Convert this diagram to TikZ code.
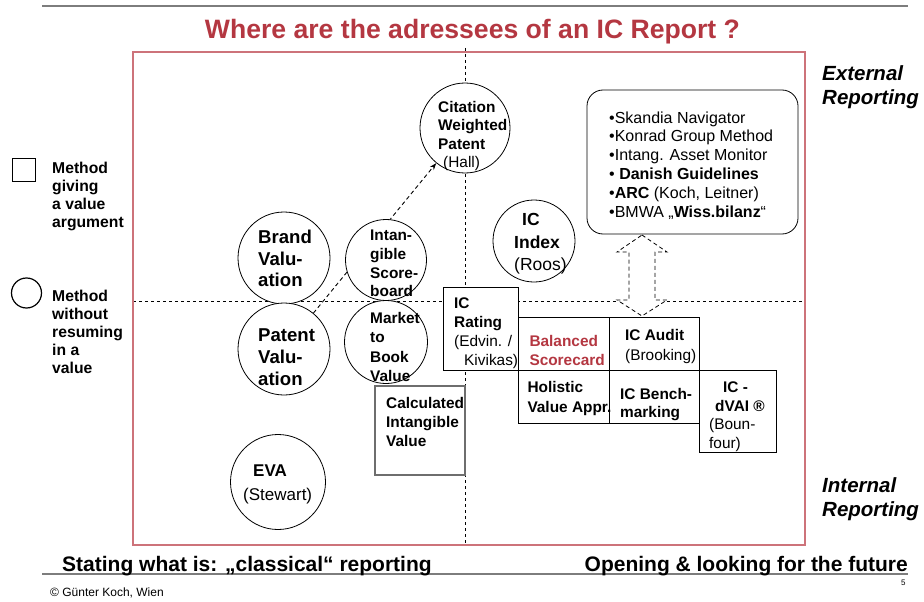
\documentclass[tikz,border=0pt]{standalone}
\usepackage{fontspec}
\setmainfont{Liberation Sans}
\usetikzlibrary{arrows.meta,backgrounds}

\definecolor{titlered}{RGB}{180,55,65}
\definecolor{framered}{RGB}{205,115,122}
\definecolor{rulegray}{RGB}{125,125,125}
\definecolor{boxgray}{RGB}{110,110,110}

\tikzset{
	circ/.style={circle, draw, fill=white, inner sep=0pt, line width=0.8pt},
	box/.style={rectangle, draw, fill=white, inner sep=0pt, line width=0.8pt},
	rbox/.style={rectangle, draw, fill=white, inner sep=0pt, line width=0.8pt, rounded corners=16pt},
	txt/.style 2 args={anchor=base west, inner sep=0pt, align=left, font=\fontsize{#1}{#2}\selectfont\bfseries},
	axis/.style={dash pattern=on 3pt off 3pt, line width=0.8pt},
}

\begin{document}
\begin{tikzpicture}[x=1pt,y=1pt,yscale=-1,xscale=1]
	\useasboundingbox (0,0) rectangle (924,602);
	
	%Straight Lines: rules
	\draw [rulegray, line width=2pt] (42,6) -- (908,6);
	\draw [rulegray, line width=1.5pt] (42,574) -- (908,574);
	
	% Text Node: title
	\node [anchor=base, inner sep=0pt, text=titlered, font=\fontsize{26.6}{30}\selectfont\bfseries] (title) at (472.5,39) {Where are the adressees of an IC Report ?};
	
	%Shape: Rectangle: frame
	\draw [framered, line width=1.3pt] (133,52) rectangle (805,545);
	
	%Shape: Circle
	\node [circ, minimum size=90] (cwp) at (465,128) {};
	\node [circ, minimum size=92] (brand) at (284,258) {};
	\node [circ, minimum size=81] (score) at (386,260) {};
	\node [circ, minimum size=92] (patval) at (284,349) {};
	\node [circ, minimum size=83] (mtb) at (386,342) {};
	\node [circ, minimum size=82] (icindex) at (534,241) {};
	\node [circ, minimum size=95] (eva) at (278,482) {};
	
	%Shape: Rectangle
	\node [box, minimum width=75, minimum height=83] (icrating) at (480.5,328.5) {};
	\node [box, minimum width=91, minimum height=53] (bsc) at (563.5,343.5) {};
	\node [box, minimum width=90, minimum height=53] (icaudit) at (654,343.5) {};
	\node [box, minimum width=91, minimum height=53] (holistic) at (563.5,396.5) {};
	\node [box, minimum width=90, minimum height=53] (bench) at (654,396.5) {};
	\node [box, minimum width=77, minimum height=82] (dvai) at (737.5,411) {};
	\node [box, draw=boxgray, line width=1.2pt, minimum width=90, minimum height=89] (calc) at (420,430.5) {};
	
	%Shape: Rounded Rect
	\node [rbox, minimum width=211, minimum height=144] (listbox) at (692.5,162) {};
	
	%Shape: Up Down Arrow
	\draw [dash pattern=on 4pt off 3pt, line width=0.8pt, fill=white] (642,235) -- (667,252) -- (655,252) -- (655,300) -- (667,300) -- (642,316) -- (617,300) -- (629,300) -- (629,252) -- (617,252) -- cycle;
	
	\begin{scope}[on background layer]
		%Straight Lines: axes
		\draw [axis] (465,48) -- (465,545);
		\draw [axis] (133,301) -- (805,301);
		%Straight Lines: arrow
		\draw [dash pattern=on 4pt off 3pt, line width=0.9pt, -{Stealth[length=7pt,width=5pt]}] (patval) -- (cwp);
	\end{scope}
	
	% Text Node
	\node [txt={15.4}{18.3}] (cwptext) at (438,167.5) {Citation\\Weighted\\Patent\\\hspace*{5pt}{\mdseries(Hall)}};
	% Text Node
	\node [txt={18.6}{21.7}] (brandtext) at (258,286.7) {Brand\\Valu-\\ation};
	% Text Node
	\node [txt={18.6}{21.7}] (patvaltext) at (258,385.1) {Patent\\Valu-\\ation};
	% Text Node
	\node [txt={15.4}{18.7}] (scoretext) at (370,296.8) {Intan-\\gible\\Score-\\board};
	% Text Node
	\node [txt={15.4}{19.4}] (mtbtext) at (370,381.5) {Market\\to\\Book\\Value};
	% Text Node
	\node [txt={17.5}{22.5}] (icindextext) at (514,270.7) {\hspace*{8pt}IC\\Index\\{\mdseries(Roos)}};
	% Text Node
	\node [txt={17}{23.3}] (evatext) at (243,500) {\hspace*{10pt}EVA\\{\mdseries(Stewart)}};
	% Text Node
	\node [txt={15.4}{18.9}] (icratingtext) at (454,365) {IC\\Rating\\{\mdseries(Edvin. /}\\\hspace*{10pt}{\mdseries Kivikas)}};
	% Text Node
	\node [txt={15.4}{18.3}, text=titlered] (bsctext) at (529.3,365) {Balanced\\Scorecard};
	% Text Node
	\node [txt={15.4}{19.3}] (icaudittext) at (625,360) {IC Audit\\{\mdseries(Brooking)}};
	% Text Node
	\node [txt={15.4}{20}] (holistictext) at (527.3,412.7) {Holistic\\Value Appr.};
	% Text Node
	\node [txt={15.4}{18.7}] (benchtext) at (620,417.7) {IC Bench-\\marking};
	% Text Node
	\node [txt={15.4}{18.9}] (calctext) at (386,446.1) {Calculated\\Intangible\\Value};
	% Text Node
	\node [txt={15.4}{18.7}] (dvaitext) at (709,448.4) {\hspace*{14pt}IC -\\\hspace*{6pt}dVAI ®\\{\mdseries(Boun-}\\{\mdseries four)}};
	% Text Node
	\node [txt={16}{18.8}, font=\fontsize{16}{18.8}\selectfont] (listtext) at (609,217) {•Skandia Navigator\\•Konrad Group Method\\•Intang. Asset Monitor\\• \textbf{Danish Guidelines}\\•\textbf{ARC} (Koch, Leitner)\\•BMWA „\textbf{Wiss.bilanz}“};
	
	%Legend
	\node [box, line width=1.5pt, minimum size=23] (legsq) at (24,170) {};
	\node [circ, line width=1.2pt, minimum size=30] (legci) at (26.5,293) {};
	% Text Node
	\node [txt={15.7}{18}] (legsqtext) at (52,227.3) {Method\\giving\\a value\\argument};
	% Text Node
	\node [txt={15.7}{17.9}] (legcitext) at (52,373.3) {Method\\without\\resuming\\in a\\value};
	
	% Text Node
	\node [txt={20.5}{24.5}, font=\fontsize{20.5}{24.5}\selectfont\bfseries\itshape] (exttext) at (822,104.5) {External\\Reporting};
	% Text Node
	\node [txt={20.5}{24.5}, font=\fontsize{20.5}{24.5}\selectfont\bfseries\itshape] (inttext) at (822,516.5) {Internal\\Reporting};
	
	% Text Node
	\node [txt={21}{24}] (leftfoot) at (62,571) {Stating what is: „classical“ reporting};
	% Text Node
	\node [txt={21}{24}, anchor=base east] (rightfoot) at (908,571) {Opening \& looking for the future};
	% Text Node
	\node [txt={12}{14}, font=\fontsize{12}{14}\selectfont] (author) at (50,596) {© Günter Koch, Wien};
	% Text Node
	\node [txt={8}{9}, font=\fontsize{8}{9}\selectfont] (pagenum) at (901,585) {5};
	
\end{tikzpicture}
\end{document}
